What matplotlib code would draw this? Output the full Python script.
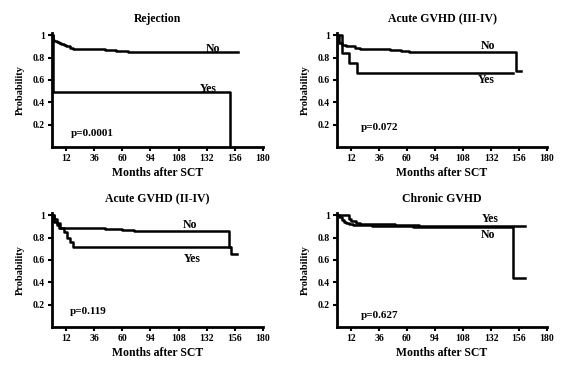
import matplotlib
matplotlib.use("Agg")
import matplotlib.pyplot as plt

plt.rcParams['font.family'] = ['Liberation Serif', 'DejaVu Serif']
plt.rcParams['font.weight'] = 'bold'

xticks = [12, 36, 60, 84, 108, 132, 156, 180]
xticklabels = ['12', '36', '60', '94', '108', '132', '156', '180']
yticks = [0.2, 0.4, 0.6, 0.8, 1.0]
yticklabels = ['0.2', '0.4', '0.6', '0.8', '1']

titles = ['Rejection', 'Acute GVHD (III-IV)', 'Acute GVHD (II-IV)', 'Chronic GVHD']
pvalues = ['p=0.0001', 'p=0.072', 'p=0.119', 'p=0.627']

# Kaplan-Meier curves (months, probability)
rej_no_t = [0, 1, 2, 4, 6, 8, 10, 12, 15, 18, 30, 45, 55, 65, 90, 120, 159]
rej_no_s = [1.0, 0.96, 0.95, 0.94, 0.93, 0.92, 0.91, 0.90, 0.89, 0.88, 0.88, 0.87, 0.86, 0.85, 0.85, 0.85, 0.85]
rej_yes_t = [0, 1, 152, 152]
rej_yes_s = [1.0, 0.49, 0.49, 0.0]

a3_no_t = [0, 2, 4, 8, 15, 20, 45, 55, 62, 153, 158]
a3_no_s = [1.0, 0.93, 0.91, 0.90, 0.89, 0.88, 0.87, 0.86, 0.85, 0.68, 0.68]
a3_yes_t = [0, 4, 10, 17, 151]
a3_yes_s = [1.0, 0.84, 0.75, 0.66, 0.66]

a2_no_t = [0, 2, 4, 6, 45, 60, 70, 151, 153, 158]
a2_no_s = [1.0, 0.94, 0.91, 0.89, 0.88, 0.87, 0.86, 0.72, 0.65, 0.65]
a2_yes_t = [0, 2, 4, 7, 10, 13, 15, 18, 152]
a2_yes_s = [1.0, 0.97, 0.93, 0.89, 0.85, 0.80, 0.76, 0.72, 0.72]

cg_yes_t = [0, 8, 10, 12, 16, 20, 50, 70, 161]
cg_yes_s = [1.0, 1.0, 0.97, 0.95, 0.93, 0.92, 0.91, 0.90, 0.90]
cg_no_t = [0, 2, 4, 6, 8, 10, 14, 30, 65, 151, 161]
cg_no_s = [1.0, 0.98, 0.96, 0.94, 0.93, 0.92, 0.91, 0.90, 0.895, 0.44, 0.44]

curves = [
    [(rej_no_t, rej_no_s), (rej_yes_t, rej_yes_s)],
    [(a3_no_t, a3_no_s), (a3_yes_t, a3_yes_s)],
    [(a2_no_t, a2_no_s), (a2_yes_t, a2_yes_s)],
    [(cg_yes_t, cg_yes_s), (cg_no_t, cg_no_s)],
]

# (label, x, y)
labels = [
    [('No', 137, 0.88), ('Yes', 133, 0.52)],
    [('No', 129, 0.90), ('Yes', 128, 0.60)],
    [('No', 118, 0.91), ('Yes', 120, 0.61)],
    [('Yes', 131, 0.97), ('No', 129, 0.82)],
]
pval_pos = [(16, 0.10), (20, 0.15), (15, 0.12), (20, 0.08)]

fig = plt.figure(figsize=(5.61, 3.65), dpi=100)
rects = [
    [52 / 561, 1 - 147 / 365, 211 / 561, 114 / 365],
    [337 / 561, 1 - 147 / 365, 210 / 561, 114 / 365],
    [52 / 561, 1 - 327 / 365, 211 / 561, 114 / 365],
    [337 / 561, 1 - 327 / 365, 210 / 561, 114 / 365],
]

for i in range(4):
    ax = fig.add_axes(rects[i])
    for t, s in curves[i]:
        ax.plot(t, s, color='black', lw=1.8, drawstyle='steps-post')
    for txt, x, y in labels[i]:
        ax.text(x, y, txt, fontsize=8.5, fontweight='bold', ha='center', va='center')
    ax.text(pval_pos[i][0], pval_pos[i][1], pvalues[i], fontsize=8, fontweight='bold')
    ax.set_xlim(0, 180)
    ax.set_ylim(0, 1.02)
    ax.set_xticks(xticks)
    ax.set_xticklabels(xticklabels, fontsize=7, fontweight='bold')
    ax.set_yticks(yticks)
    ax.set_yticklabels(yticklabels, fontsize=7, fontweight='bold')
    ax.spines['top'].set_visible(False)
    ax.spines['right'].set_visible(False)
    ax.spines['left'].set_linewidth(2)
    ax.spines['bottom'].set_linewidth(2)
    ax.tick_params(direction='out', length=3, width=1.5, pad=2)
    ax.set_title(titles[i], fontsize=8.5, fontweight='bold', pad=8)
    ax.set_xlabel('Months after SCT', fontsize=8.5, fontweight='bold', labelpad=3)
    ax.set_ylabel('Probability', fontsize=7.5, fontweight='bold', labelpad=6)

fig.savefig('out.png', dpi=100)
